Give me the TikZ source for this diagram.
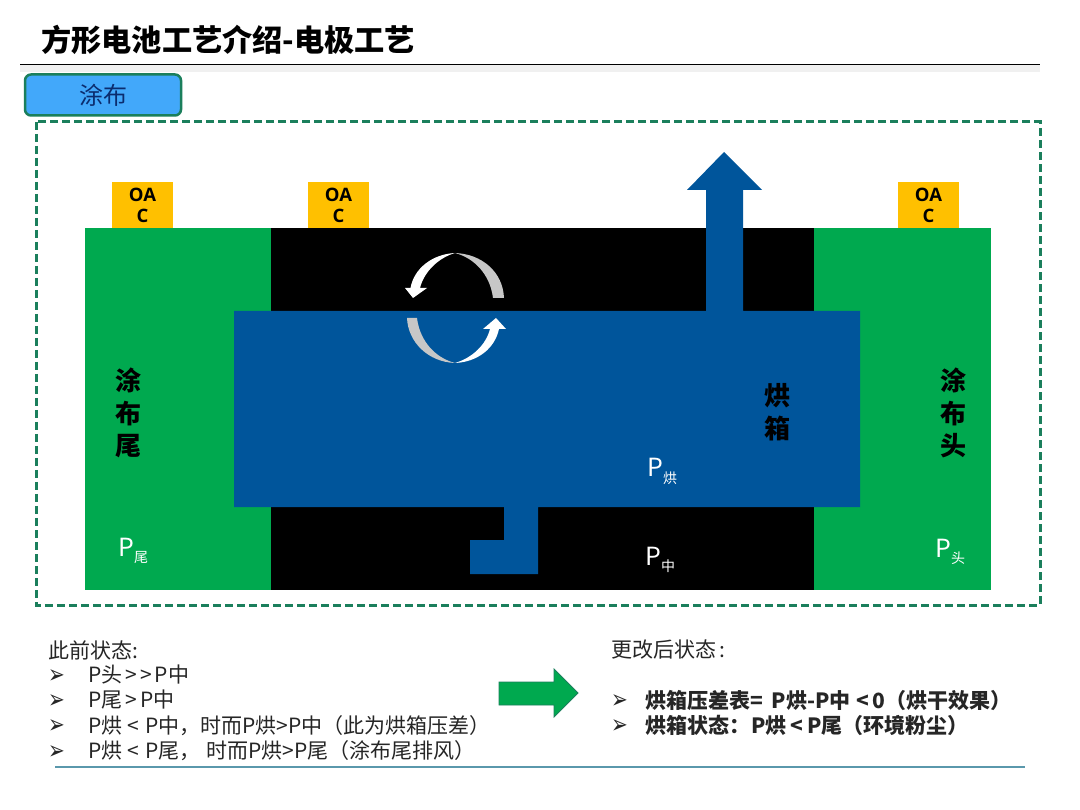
\documentclass[tikz,border=0pt]{standalone}
\usepackage{fontspec}
\setmainfont{Noto Sans CJK SC}
\newfontfamily\dingfont{DejaVu Sans}
\newfontfamily\latinfont{Open Sans}
\definecolor{fgreen}{HTML}{00A94F}
\definecolor{oacy}{HTML}{FFC000}
\definecolor{boxblue}{HTML}{00559B}
\definecolor{tabblue}{HTML}{42A8FA}
\definecolor{frameg}{HTML}{1B7F5C}
\definecolor{rulebl}{HTML}{5A98AC}
\definecolor{txt}{HTML}{262626}
\definecolor{tabtxt}{HTML}{0B2C6E}
\newcommand{\fsz}[1]{\fontsize{#1}{#1}\selectfont}
\newcommand{\ps}[1]{{\fsz{14}#1}}
\newcommand{\flp}{\char"FF08\relax}
\newcommand{\frp}{\char"FF09\relax}
\newcommand{\fcm}{\char"FF0C\relax}
\newcommand{\fcl}{\char"FF1A\relax}
\newcommand{\gp}[1]{\hspace{#1pt}}
\newcommand{\bulletmark}{\scalebox{1}[1.3]{\dingfont\fsz{20}\char"27A2\relax}}
\tikzset{
  x=1pt,y=-1pt,
  oac/.style={fill=oacy,draw=none,minimum width=61,minimum height=46,inner sep=0,align=center,text=black,font=\latinfont\fsz{18.5}\bfseries,execute at begin node=\setlength{\baselineskip}{21pt}},
  body/.style={anchor=base west,inner sep=0,text=txt,font=\fsz{21}},
  boldbody/.style={anchor=base west,inner sep=0,text=txt,font=\fsz{21}\bfseries},
  bul/.style={anchor=base west,inner sep=0,text=txt},
  vert/.style={inner sep=0,align=center,text=black,font=\fsz{26}\bfseries,execute at begin node=\setlength{\baselineskip}{32.5pt}},
  plab/.style={anchor=base west,inner sep=0,text=white,font=\fsz{25}},
}
\begin{document}
\begin{tikzpicture}
\useasboundingbox (0,0) rectangle (1080,810);
\fill[white] (0,0) rectangle (1080,810);
% title
\node[anchor=base west,inner sep=0,text=black,font=\fsz{30.2}\bfseries] (title) at (41,52) {方形电池工艺介绍-电极工艺};
\fill[black!6] (20,65) rectangle (1040,72);
\draw[black,line width=1] (20,65) -- (1040,65);
% tab
\node[draw=frameg,line width=2.5,fill=tabblue,rounded corners=6,minimum width=156,minimum height=41,inner sep=0,text=tabtxt,font=\fsz{24}] (tab) at (103,95) {涂布};
% frame
\draw[frameg,line width=3,dash pattern=on 8pt off 4pt] (36,122) rectangle (1040,605);
% bands
\fill[fgreen] (85,228) rectangle (271,590);
\fill[black] (271,228) rectangle (814,590);
\fill[fgreen] (814,228) rectangle (991,590);
% oven
\fill[boxblue] (234,311) -- (706,311) -- (706,190) -- (687,190) -- (724,152) -- (762,190) -- (743,190) -- (743,311) -- (860,311) -- (860,507) -- (538,507) -- (538,574) -- (470,574) -- (470,540) -- (504,540) -- (504,507) -- (234,507) -- cycle;
% OAC
\node[oac] (oac1) at (142.5,205) {OA\\C};
\node[oac] (oac2) at (338.5,205) {OA\\C};
\node[oac] (oac3) at (928.5,205) {OA\\C};
% circulating arrows
\fill[black!22] (504,298) .. controls (503,272) and (482,254) .. (455,253) .. controls (474,258) and (490,274) .. (493,298) -- cycle;
\fill[white] (455,253) .. controls (433,254) and (414,268) .. (410.5,288) -- (405,288) -- (413,298) -- (427,288) -- (420,288) .. controls (424,272) and (438,258) .. (455,253) -- cycle;
\fill[black!22] (407,318) .. controls (408,342) and (428,362) .. (455,363) .. controls (436,358) and (420,342) .. (417,318) -- cycle;
\fill[white] (455,363) .. controls (478,362) and (495,348) .. (499,329) -- (506,329) -- (496,318) -- (483,329) -- (490,329) .. controls (486,345) and (472,358) .. (455,363) -- cycle;
% vertical labels
\node[vert] (tail) at (128,413) {涂\\布\\尾};
\node[vert] (head) at (953,413) {涂\\布\\头};
\node[vert] (oven) at (777,412) {烘\\箱};
% pressures
\node[plab] (pt) at (118,556) {P\raisebox{-6pt}{\ps{尾}}};
\node[plab] (pk) at (647,477) {P\raisebox{-6pt}{\ps{烘}}};
\node[plab] (pz) at (645,565) {P\raisebox{-6pt}{\ps{中}}};
\node[plab] (ph) at (935,557) {P\raisebox{-6pt}{\ps{头}}};
% left text
\node[body] (l0) at (48,658) {此前状态:};
\node[bul] (b1) at (48,683) {\bulletmark};
\node[body] (l1) at (88,682) {P头\gp{3}{>}\gp{3}{>}\gp{3}P中};
\node[bul] (b2) at (48,708) {\bulletmark};
\node[body] (l2) at (88,707) {P尾\gp{3}>\gp{3}P中};
\node[bul] (b3) at (48,733) {\bulletmark};
\node[body] (l3) at (88,733) {P烘\gp{5}<\gp{6}P中\fcm 时而P烘>P中\flp 此为烘箱压差\frp};
\node[bul] (b4) at (48,759) {\bulletmark};
\node[body] (l4) at (88,758) {P烘\gp{5}<\gp{6}P尾\fcm\gp{6}时而P烘>P尾\flp 涂布尾排风\frp};
% arrow
\fill[fgreen,draw=frameg,line width=0.8] (499,682) -- (554,682) -- (554,669) -- (578,693) -- (554,717) -- (554,705) -- (499,705) -- cycle;
% right text
\node[body] (r0) at (611,657) {更改后状态\gp{3}:};
\node[bul] (b5) at (611,708) {\bulletmark};
\node[boldbody] (r1) at (645,708) {烘箱压差表=\gp{9}P烘-P中\gp{6}<\gp{3}0\flp 烘干效果\frp};
\node[bul] (b6) at (611,733) {\bulletmark};
\node[boldbody] (r2) at (645,733) {烘箱状态\fcl\gp{1}P烘\gp{4}<\gp{4}P尾\flp 环境粉尘\frp};
% bottom rule
\draw[rulebl,line width=1.2] (55,767) -- (1025,767);
\end{tikzpicture}
\end{document}
